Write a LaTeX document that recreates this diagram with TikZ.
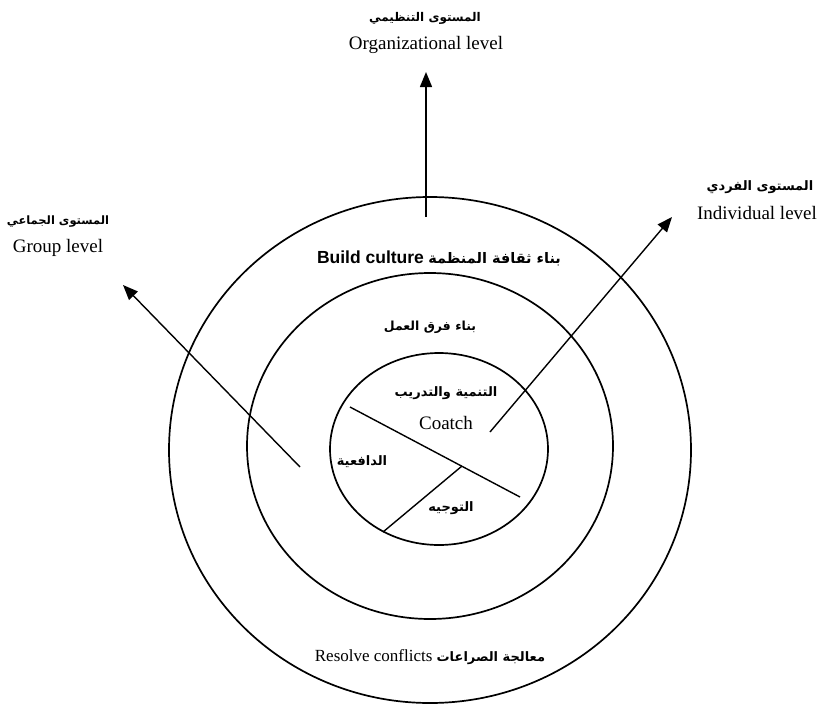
\documentclass[tikz,border=0pt]{standalone}
\usepackage{fontspec}
\setmainfont{Liberation Serif}
\newfontfamily\arabicfont[Script=Arabic]{DejaVu Sans}
\newfontfamily\headsans{Liberation Sans}
\TeXXeTstate=1
\usetikzlibrary{arrows.meta}
\newcommand{\arsize}[1]{\arabicfont\bfseries\fontsize{#1}{#1}\selectfont}
\begin{document}
\begin{tikzpicture}[x=1pt,y=-1pt,
 ring/.style={draw, line width=1.7pt},
 divline/.style={line width=1.4pt},
 arr/.style={line width=1.4pt, -{Triangle[length=15pt,width=12pt]}},
 en/.style={font=\fontsize{19}{21}\selectfont, inner sep=0pt},
 ar/.style={inner sep=0pt}]
\useasboundingbox (0,0) rectangle (817,707);
% rings
\draw[ring] (430,450) ellipse [x radius=261, y radius=253];
\draw[ring] (430,446) ellipse [x radius=183, y radius=173];
\draw[ring] (439,449) ellipse [x radius=109, y radius=96];
% division of inner circle
\coordinate (d1) at (350,407);
\coordinate (d2) at (520,497);
\coordinate (d3) at (462,466);
\coordinate (d4) at (383,532);
\draw[divline] (d1) -- (d2);
\draw[divline] (d3) -- (d4);
% arrows
\coordinate (o1) at (426,217); \coordinate (o2) at (426,72);
\coordinate (g1) at (300,467); \coordinate (g2) at (123,285);
\coordinate (i1) at (490,432); \coordinate (i2) at (672,217);
\draw[arr] (o1) -- (o2);
\draw[arr] (g1) -- (g2);
\draw[arr] (i1) -- (i2);
% labels
\node[ar] (orgar) at (425,18) {\arsize{12}\beginR المستوى التنظيمي\endR};
\node[en] (orgen) at (426,45) {Organizational level};
\node[ar] (indar) at (760,187) {\arsize{13}\beginR المستوى الفردي\endR};
\node[en] (inden) at (757,213) {Individual level};
\node[ar] (grpar) at (58,222) {\arsize{11.5}\beginR المستوى الجماعي\endR};
\node[en] (grpen) at (58,248) {Group level};
\node[inner sep=0pt, font=\fontsize{17.5}{19}\selectfont] (culture) at (439,258)
  {{\headsans\bfseries Build culture} {\arsize{14.5}\beginR بناء ثقافة المنظمة\endR}};
\node[ar] (teams) at (430,327) {\arsize{12.5}\beginR بناء فرق العمل\endR};
\node[ar] (devar) at (446,393) {\arsize{13}\beginR التنمية والتدريب\endR};
\node[en] (coach) at (446,423) {Coatch};
\node[ar] (motiv) at (362,462) {\arsize{13}\beginR الدافعية\endR};
\node[ar] (guide) at (451,508) {\arsize{13}\beginR التوجيه\endR};
\node[inner sep=0pt, font=\fontsize{17}{19}\selectfont] (conflict) at (430,657)
  {Resolve conflicts {\arsize{13}\beginR معالجة الصراعات\endR}};
\end{tikzpicture}
\end{document}
